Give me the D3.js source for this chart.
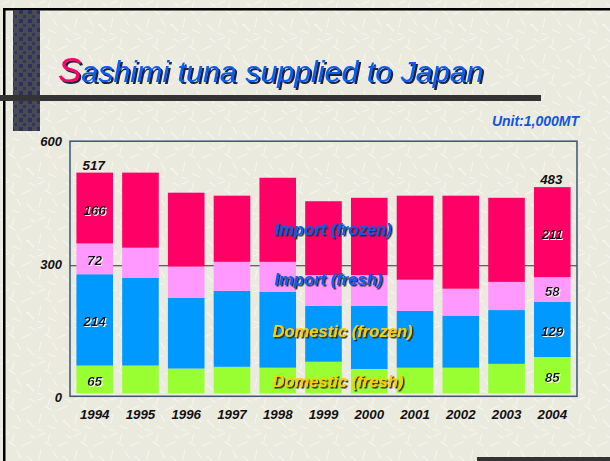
<!DOCTYPE html>
<html>
<head>
<meta charset="utf-8">
<script src="https://cdn.jsdelivr.net/npm/d3@7/dist/d3.min.js"></script>
<style>
  html, body { margin: 0; padding: 0; background: #ebeadf; }
  svg { display: block; font-family: Arial, "Liberation Sans", sans-serif; }
</style>
</head>
<body>
<svg id="chart" width="610" height="461"></svg>
<script>
// values in 1,000 MT
const years = ["1994", "1995", "1996", "1997", "1998", "1999", "2000", "2001", "2002", "2003", "2004"]
const domesticFresh  = [65, 65, 58, 62, 60, 74, 57, 60, 60, 69, 85]
const domesticFrozen = [214, 206, 166, 178, 178, 131, 148, 133, 122, 126, 129]
const importFresh    = [72, 70, 73, 68, 70, 72, 72, 73, 63, 66, 58]
const importFrozen   = [166, 176, 173, 155, 197, 173, 181, 197, 218, 197, 211]
const seriesNames = ["Domestic (fresh)", "Domestic (frozen)", "Import (fresh)", "Import (frozen)"]
const yTicks = [0, 300, 600]
const labelledYears = ["1994", "2004"]

const colors = ["#99ff33", "#0099ff", "#ff99ff", "#ff0066"]
const legendColors = ["#ffcc00", "#ffcc00", "#0a5cf0", "#0a5cf0"]

const svg = d3.select("#chart")
const W = 610, H = 461

const defs = svg.append("defs")

// drop shadows
function shadow(id, dx, dy, color) {
  defs.append("filter").attr("id", id)
    .attr("x", "-10%").attr("y", "-30%").attr("width", "130%").attr("height", "160%")
    .append("feDropShadow")
    .attr("dx", dx).attr("dy", dy).attr("stdDeviation", 0.3)
    .attr("flood-color", color).attr("flood-opacity", 1)
}
shadow("shTitle", 2, 2, "#1c2340")
shadow("shDark", 1.5, 1.5, "#2b2b2b")
shadow("shWhite", 1, 1, "#ffffff")

// background texture (light speckle strokes)
const tex = defs.append("pattern").attr("id", "tex")
  .attr("width", 36).attr("height", 36).attr("patternUnits", "userSpaceOnUse")
tex.append("rect").attr("width", 36).attr("height", 36).attr("fill", "#ebeadf")
const strokes = [[2,4,9,1],[14,2,12,9],[22,14,31,10],[5,18,3,27],[12,30,20,33],[27,24,34,31],[17,19,21,26],[30,3,35,6],[1,33,7,35],[9,10,15,14]]
tex.selectAll("line").data(strokes).enter().append("line")
  .attr("x1", d => d[0]).attr("y1", d => d[1]).attr("x2", d => d[2]).attr("y2", d => d[3])
  .attr("stroke", "#f7f6ef").attr("stroke-width", 1.1).attr("stroke-linecap", "round")

const dots = defs.append("pattern").attr("id", "dots")
  .attr("width", 9).attr("height", 9).attr("patternUnits", "userSpaceOnUse")
dots.append("rect").attr("width", 9).attr("height", 9).attr("fill", "#4a4a52")
dots.append("rect").attr("x", 1).attr("y", 1).attr("width", 4).attr("height", 4).attr("fill", "#2b3160")
dots.append("rect").attr("x", 5).attr("y", 6).attr("width", 3).attr("height", 3).attr("fill", "#303663")

svg.append("rect").attr("width", W).attr("height", H).attr("fill", "url(#tex)")

// slide decorations
svg.append("rect").attr("x", 3).attr("y", 8).attr("width", W - 3).attr("height", 2.5).attr("fill", "#000")
svg.append("rect").attr("x", 3).attr("y", 8).attr("width", 2.5).attr("height", H - 8).attr("fill", "#000")
svg.append("rect").attr("x", 13).attr("y", 10).attr("width", 27).attr("height", 121).attr("fill", "url(#dots)")
svg.append("rect").attr("x", 0).attr("y", 95).attr("width", 541).attr("height", 6).attr("fill", "#333333")
svg.append("rect").attr("x", 477).attr("y", 457).attr("width", W - 477).attr("height", 5).attr("fill", "#333333")

// title
const t = svg.append("text").attr("x", 58).attr("y", 82)
  .attr("font-style", "italic").attr("filter", "url(#shTitle)")
t.append("tspan").attr("font-size", 35).attr("fill", "#ff0066").text("S")
t.append("tspan").attr("font-size", 30.4).attr("fill", "#0a5cf0").text("ashimi tuna supplied to Japan")

svg.append("text").attr("x", 579).attr("y", 126).attr("text-anchor", "end")
  .attr("font-size", 14).attr("font-weight", "bold").attr("font-style", "italic")
  .attr("fill", "#1155dd").text("Unit:1,000MT")

// scales
const x = d3.scaleBand().domain(years).range([70, 577]).paddingInner(0.2).paddingOuter(0.14)
const y = d3.scaleLinear().domain([0, 600]).range([393.3, 137.2])

const rows = years.map((yr, i) => ({
  year: yr,
  [seriesNames[0]]: domesticFresh[i],
  [seriesNames[1]]: domesticFrozen[i],
  [seriesNames[2]]: importFresh[i],
  [seriesNames[3]]: importFrozen[i]
}))
const stacked = d3.stack().keys(seriesNames)(rows)

// gridline at 300
svg.append("g").attr("class", "grid")
  .attr("transform", "translate(70,0)")
  .call(d3.axisRight(y).tickValues([300]).tickSize(507).tickFormat(""))
  .call(g => g.select(".domain").remove())
  .selectAll("line").attr("stroke", "#333").attr("stroke-width", 1.2)

// bars
svg.selectAll("g.layer").data(stacked).enter().append("g")
  .attr("class", "layer")
  .attr("fill", (d, i) => colors[i])
  .selectAll("rect").data(d => d).enter().append("rect")
  .attr("x", d => x(d.data.year))
  .attr("y", d => y(d[1]))
  .attr("width", x.bandwidth())
  .attr("height", d => y(d[0]) - y(d[1]))

// plot frame
svg.append("rect").attr("x", 70).attr("y", y(600) + 4).attr("width", 507).attr("height", y(0) + 3 - (y(600) + 4))
  .attr("fill", "none").attr("stroke", "#3a5475").attr("stroke-width", 1.5)

// y tick labels
const yAxis = svg.append("g").attr("transform", "translate(62,0)")
  .call(d3.axisLeft(y).tickValues(yTicks).tickSize(0).tickPadding(0))
yAxis.select(".domain").remove()
yAxis.selectAll(".tick")
  .attr("transform", d => "translate(0," + (y(d) + (d === 300 ? 0 : 4.5)) + ")")
yAxis.selectAll("text")
  .attr("font-family", "Arial, 'Liberation Sans', sans-serif")
  .attr("font-size", 13).attr("font-weight", "bold").attr("font-style", "italic").attr("fill", "#111")

// x axis labels
const xAxis = svg.append("g").attr("transform", "translate(0,410)")
  .call(d3.axisBottom(x).tickSize(0).tickPadding(0))
xAxis.select(".domain").remove()
xAxis.selectAll("text")
  .attr("font-family", "Arial, 'Liberation Sans', sans-serif")
  .attr("font-size", 13.3).attr("font-weight", "bold").attr("font-style", "italic").attr("fill", "#111")

// value labels for first and last year
const labels = svg.append("g").attr("text-anchor", "middle")
  .attr("font-size", 13.3).attr("font-weight", "bold").attr("font-style", "italic").attr("fill", "#111")
stacked.forEach(layer => {
  layer.filter(d => labelledYears.includes(d.data.year)).forEach(d => {
    labels.append("text")
      .attr("x", x(d.data.year) + x.bandwidth() / 2)
      .attr("y", (y(d[0]) + y(d[1])) / 2 + 6.5)
      .attr("filter", "url(#shWhite)")
      .text(d[1] - d[0])
  })
})
labelledYears.forEach(yr => {
  const i = years.indexOf(yr)
  const total = domesticFresh[i] + domesticFrozen[i] + importFresh[i] + importFrozen[i]
  labels.append("text").attr("x", x(yr) + x.bandwidth() / 2 - 1).attr("y", y(total) - 3).text(total)
})

// in-chart series labels
const legendY = [386.5, 336.5, 285, 235]
svg.append("g").attr("font-size", 16.6).attr("font-weight", "bold").attr("font-style", "italic")
  .attr("filter", "url(#shDark)")
  .selectAll("text").data(seriesNames).enter().append("text")
  .attr("x", (d, i) => i < 2 ? 272.5 : 274.5)
  .attr("y", (d, i) => legendY[i])
  .attr("fill", (d, i) => legendColors[i])
  .text(d => d)
</script>
</body>
</html>
